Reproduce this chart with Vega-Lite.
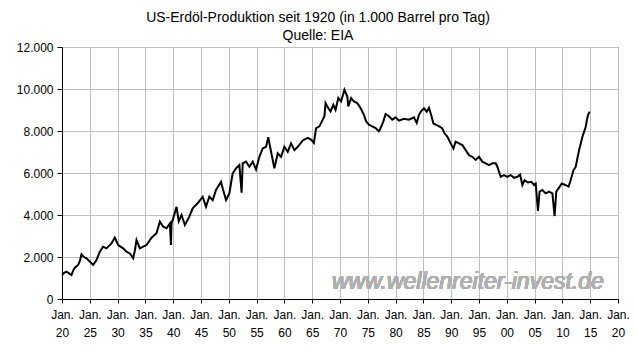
{
  "$schema": "https://vega.github.io/schema/vega-lite/v6.json",
  "width": 556,
  "height": 252,
  "autosize": "none",
  "padding": {"left": 62, "top": 47, "right": 18, "bottom": 53},
  "background": "white",
  "config": {
    "font": "Liberation Sans",
    "view": {"stroke": "black", "strokeWidth": 1},
    "axis": {
      "labelFont": "Liberation Sans",
      "labelFontSize": 12,
      "labelColor": "black",
      "domainColor": "black",
      "tickColor": "black",
      "gridColor": "#c0c0c0",
      "gridWidth": 1,
      "title": null
    }
  },
  "title": {
    "text": ["US-Erdöl-Produktion seit 1920 (in 1.000 Barrel pro Tag)", "Quelle: EIA"],
    "font": "Liberation Sans",
    "fontSize": 14,
    "fontWeight": "normal",
    "color": "black",
    "lineHeight": 18,
    "anchor": "middle",
    "frame": "group",
    "dx": -22,
    "offset": -2
  },
  "data": {
    "values": [
      {"t": 1920.0, "v": 1140}, {"t": 1920.4, "v": 1250}, {"t": 1920.8, "v": 1300}, {"t": 1921.2, "v": 1230},
      {"t": 1921.7, "v": 1140}, {"t": 1922.0, "v": 1350}, {"t": 1922.3, "v": 1490}, {"t": 1922.9, "v": 1620},
      {"t": 1923.2, "v": 1800}, {"t": 1923.5, "v": 2130}, {"t": 1923.9, "v": 2010}, {"t": 1924.4, "v": 1940},
      {"t": 1925.0, "v": 1780}, {"t": 1925.6, "v": 1620}, {"t": 1926.2, "v": 1860}, {"t": 1926.8, "v": 2250},
      {"t": 1927.4, "v": 2490}, {"t": 1928.0, "v": 2410}, {"t": 1928.9, "v": 2650}, {"t": 1929.5, "v": 2920},
      {"t": 1930.1, "v": 2570}, {"t": 1931.0, "v": 2410}, {"t": 1931.6, "v": 2250}, {"t": 1932.2, "v": 2170},
      {"t": 1932.8, "v": 1940}, {"t": 1933.1, "v": 2300}, {"t": 1933.4, "v": 2810}, {"t": 1934.0, "v": 2410},
      {"t": 1934.6, "v": 2490}, {"t": 1935.2, "v": 2570}, {"t": 1936.1, "v": 2920}, {"t": 1937.0, "v": 3130},
      {"t": 1937.6, "v": 3680}, {"t": 1938.2, "v": 3440}, {"t": 1938.8, "v": 3370}, {"t": 1939.4, "v": 3600},
      {"t": 1939.6, "v": 2570}, {"t": 1939.7, "v": 3600}, {"t": 1940.0, "v": 3840}, {"t": 1940.6, "v": 4390},
      {"t": 1941.0, "v": 3700}, {"t": 1941.5, "v": 4000}, {"t": 1942.1, "v": 3520}, {"t": 1942.9, "v": 3920},
      {"t": 1943.5, "v": 4320}, {"t": 1944.4, "v": 4560}, {"t": 1945.3, "v": 4870}, {"t": 1945.9, "v": 4390},
      {"t": 1946.5, "v": 4870}, {"t": 1947.1, "v": 4710}, {"t": 1947.7, "v": 5190}, {"t": 1948.6, "v": 5580},
      {"t": 1948.9, "v": 5270}, {"t": 1949.5, "v": 4710}, {"t": 1950.1, "v": 5030}, {"t": 1950.7, "v": 5980},
      {"t": 1951.3, "v": 6220}, {"t": 1951.9, "v": 6380}, {"t": 1952.3, "v": 5060}, {"t": 1952.5, "v": 6460},
      {"t": 1953.1, "v": 6540}, {"t": 1953.7, "v": 6300}, {"t": 1954.3, "v": 6540}, {"t": 1954.9, "v": 6170},
      {"t": 1955.5, "v": 6770}, {"t": 1956.1, "v": 7170}, {"t": 1956.7, "v": 7250}, {"t": 1957.1, "v": 7700},
      {"t": 1957.6, "v": 7010}, {"t": 1958.2, "v": 6220}, {"t": 1958.8, "v": 6940}, {"t": 1959.4, "v": 6770},
      {"t": 1960.0, "v": 7250}, {"t": 1960.6, "v": 7010}, {"t": 1961.2, "v": 7410}, {"t": 1961.8, "v": 7090},
      {"t": 1962.4, "v": 7250}, {"t": 1963.3, "v": 7550}, {"t": 1964.2, "v": 7670}, {"t": 1964.8, "v": 7590},
      {"t": 1965.3, "v": 7430}, {"t": 1965.7, "v": 8140}, {"t": 1966.3, "v": 8220}, {"t": 1966.9, "v": 8540},
      {"t": 1967.2, "v": 8700}, {"t": 1967.4, "v": 9330}, {"t": 1967.9, "v": 9090}, {"t": 1968.3, "v": 8930},
      {"t": 1968.8, "v": 9250}, {"t": 1969.2, "v": 9010}, {"t": 1969.7, "v": 9570}, {"t": 1970.2, "v": 9410},
      {"t": 1970.8, "v": 9960}, {"t": 1971.3, "v": 9650}, {"t": 1971.5, "v": 9170}, {"t": 1972.0, "v": 9570},
      {"t": 1972.5, "v": 9410}, {"t": 1973.1, "v": 9330}, {"t": 1973.7, "v": 9090}, {"t": 1974.3, "v": 8770},
      {"t": 1974.7, "v": 8460}, {"t": 1975.2, "v": 8300}, {"t": 1975.8, "v": 8220}, {"t": 1976.4, "v": 8140},
      {"t": 1977.0, "v": 7980}, {"t": 1977.3, "v": 8140}, {"t": 1977.8, "v": 8460}, {"t": 1978.2, "v": 8810},
      {"t": 1978.8, "v": 8700}, {"t": 1979.4, "v": 8540}, {"t": 1980.0, "v": 8650}, {"t": 1980.6, "v": 8490},
      {"t": 1981.5, "v": 8580}, {"t": 1982.4, "v": 8540}, {"t": 1983.3, "v": 8650}, {"t": 1983.8, "v": 8380},
      {"t": 1984.2, "v": 8770}, {"t": 1984.6, "v": 8950}, {"t": 1985.1, "v": 9080}, {"t": 1985.6, "v": 8920},
      {"t": 1986.0, "v": 9110}, {"t": 1986.4, "v": 8760}, {"t": 1986.8, "v": 8360}, {"t": 1987.4, "v": 8280},
      {"t": 1988.0, "v": 8200}, {"t": 1988.4, "v": 8120}, {"t": 1988.8, "v": 7890}, {"t": 1989.3, "v": 7730},
      {"t": 1989.9, "v": 7410}, {"t": 1990.4, "v": 7170}, {"t": 1990.8, "v": 7490}, {"t": 1991.4, "v": 7410},
      {"t": 1992.0, "v": 7330}, {"t": 1992.6, "v": 7090}, {"t": 1993.2, "v": 6850}, {"t": 1993.8, "v": 6770},
      {"t": 1994.4, "v": 6620}, {"t": 1995.0, "v": 6770}, {"t": 1995.6, "v": 6540}, {"t": 1996.2, "v": 6460},
      {"t": 1996.8, "v": 6380}, {"t": 1997.4, "v": 6460}, {"t": 1998.0, "v": 6460}, {"t": 1998.3, "v": 6300},
      {"t": 1998.6, "v": 6060}, {"t": 1998.9, "v": 5820}, {"t": 1999.5, "v": 5900}, {"t": 2000.1, "v": 5820},
      {"t": 2000.7, "v": 5900}, {"t": 2001.3, "v": 5770}, {"t": 2001.9, "v": 5820}, {"t": 2002.4, "v": 5930},
      {"t": 2002.8, "v": 5430}, {"t": 2003.2, "v": 5660}, {"t": 2003.8, "v": 5550}, {"t": 2004.4, "v": 5580},
      {"t": 2004.9, "v": 5430}, {"t": 2005.2, "v": 5500}, {"t": 2005.6, "v": 4200}, {"t": 2005.9, "v": 5110},
      {"t": 2006.4, "v": 5190}, {"t": 2007.0, "v": 5030}, {"t": 2007.6, "v": 5110}, {"t": 2008.2, "v": 5030},
      {"t": 2008.6, "v": 3950}, {"t": 2008.9, "v": 5110}, {"t": 2009.3, "v": 5270}, {"t": 2009.9, "v": 5500},
      {"t": 2010.5, "v": 5430}, {"t": 2011.1, "v": 5350}, {"t": 2011.4, "v": 5580}, {"t": 2012.0, "v": 6140},
      {"t": 2012.4, "v": 6300}, {"t": 2012.7, "v": 6700}, {"t": 2013.0, "v": 7090}, {"t": 2013.3, "v": 7410},
      {"t": 2013.6, "v": 7730}, {"t": 2013.9, "v": 7960}, {"t": 2014.2, "v": 8200}, {"t": 2014.4, "v": 8520},
      {"t": 2014.6, "v": 8760}, {"t": 2014.9, "v": 8920}
    ]
  },
  "encoding": {
    "x": {
      "field": "t", "type": "quantitative",
      "scale": {"domain": [1920, 2020], "nice": false, "zero": false},
      "axis": {
        "values": [1920, 1925, 1930, 1935, 1940, 1945, 1950, 1955, 1960, 1965, 1970, 1975, 1980, 1985, 1990, 1995, 2000, 2005, 2010, 2015, 2020],
        "labelExpr": "['Jan.', slice('0' + (datum.value % 100), -2)]",
        "labelLineHeight": 18,
        "labelAngle": 0,
        "labelOverlap": false,
        "labelFlush": false,
        "labelBound": false,
        "tickSize": 4,
        "labelPadding": 6,
        "grid": true
      }
    },
    "y": {
      "field": "v", "type": "quantitative",
      "scale": {"domain": [0, 12000], "nice": false},
      "axis": {
        "values": [0, 2000, 4000, 6000, 8000, 10000, 12000],
        "labelExpr": "replace(format(datum.value, ','), ',', '.')",
        "labelOverlap": false,
        "tickSize": 5,
        "labelPadding": 4,
        "grid": true
      }
    }
  },
  "layer": [
    {
      "mark": {"type": "text", "font": "Liberation Sans", "fontStyle": "italic", "fontSize": 23, "color": "#b0b0b0", "align": "center", "baseline": "middle"},
      "encoding": {
        "x": {"datum": 1993.0, "type": "quantitative"},
        "y": {"datum": 820, "type": "quantitative"},
        "text": {"value": "www.wellenreiter-invest.de"}
      }
    },
    {
      "mark": {"type": "line", "color": "black", "strokeWidth": 2, "strokeJoin": "miter"}
    }
  ]
}
